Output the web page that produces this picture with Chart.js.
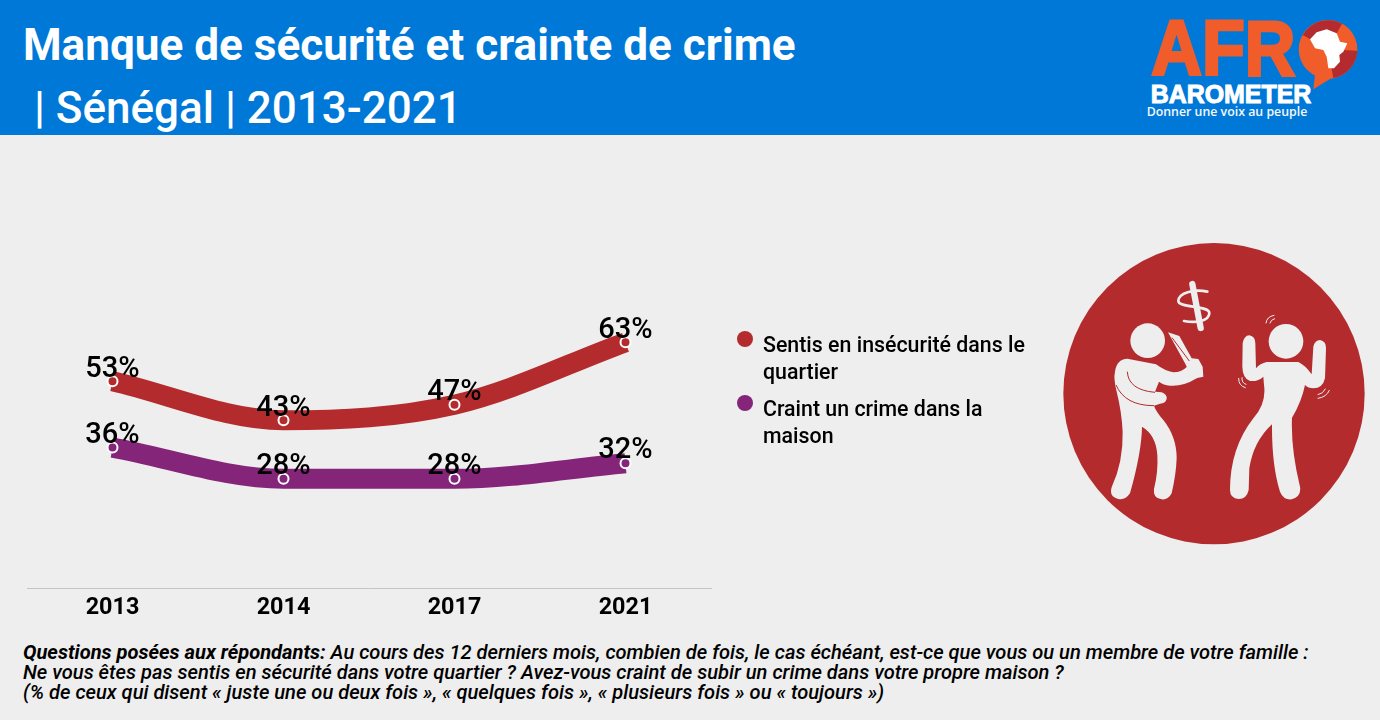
<!DOCTYPE html>
<html lang="fr">
<head>
<meta charset="utf-8">
<title>Manque de sécurité et crainte de crime | Sénégal | 2013-2021</title>
<script src="https://cdn.jsdelivr.net/npm/chart.js@4"></script>
<style>
  html, body { margin: 0; padding: 0; }
  body { width: 1380px; height: 720px; background: #eeeeee; position: relative; overflow: hidden; font-family: Roboto, sans-serif; color: #000; }
  #header { position: absolute; left: 0; top: 0; width: 1380px; height: 135px; background: #0078d7; color: #fff; }
  #header div { position: absolute; white-space: pre; line-height: 60px; }
  #title1 { left: 23px; top: 15px; font-size: 44.1px; font-weight: 700; }
  #title2 { left: 23px; top: 78px; font-size: 44px; font-weight: 500; }
  #logo { position: absolute; left: 1130px; top: 0; }
  #chartBox { position: absolute; left: 0; top: 135px; width: 740px; height: 493px; }
  #legend { position: absolute; left: 737px; top: 331px; width: 300px; }
  .legend-item { position: relative; padding-left: 26px; font-size: 21.35px; font-weight: 500; line-height: 27px; margin-bottom: 10px; }
  .legend-item i { position: absolute; left: 0; top: 0; width: 16px; height: 16px; border-radius: 50%; }
  #icon { position: absolute; left: 1050px; top: 235px; }
  #note { position: absolute; left: 23px; top: 642px; font-size: 20.1px; line-height: 20px; font-style: italic; font-weight: 500; white-space: pre; }
  #note b { font-weight: 700; }
</style>
</head>
<body>
<div id="header">
  <div id="title1">Manque de sécurité et crainte de crime</div>
  <div id="title2"> | Sénégal | 2013-2021</div>
  <svg id="logo" width="250" height="135" viewBox="0 0 750 405">
    <text x="64" y="226" font-family="Liberation Sans" font-weight="700" font-size="232" fill="#f15d2a" stroke="#f15d2a" stroke-width="9" textLength="432" lengthAdjust="spacingAndGlyphs">AFR</text>
    <path d="M555,225 L550,268 L618,226 Z" fill="#f15d2a"/>
    <circle cx="594" cy="148" r="88" fill="#f15d2a"/>
    <path d="M594,148 L518,105 A88,88 0 0 1 636,71 Z" fill="#b32b2e"/>
    <path d="M594,148 L682,152 A88,88 0 0 1 610,234 Z" fill="#b32b2e"/>
    <path d="M540,118 L560,97 L590,88 L620,100 L630,125 L652,130 L640,155 L628,165 L630,185 L612,205 L595,205 L590,170 L580,150 L555,145 Z" fill="#fff"/>
    <text x="62" y="309" font-family="Liberation Sans" font-weight="700" font-size="78" fill="#fff" stroke="#fff" stroke-width="3" textLength="482" lengthAdjust="spacingAndGlyphs">BAROMETER</text>
    <text x="50" y="348" font-family="Open Sans" font-weight="600" font-size="35" fill="#f4f8fd" textLength="482" lengthAdjust="spacingAndGlyphs">Donner une voix au peuple</text>
  </svg>
</div>

<div id="chartBox"><canvas id="myChart"></canvas></div>
<div id="legend"></div>

<svg id="icon" width="330" height="320" viewBox="0 0 990 960">
  <circle cx="492" cy="476" r="452" fill="#b42b2e"/>
  <g fill="#eeeeee">
    <!-- attacker -->
    <circle cx="293" cy="317" r="52"/>
    <path d="M232,371 L318,388 Q345,408 370,412 Q395,412 410,396 L445,385 L458,415 L440,430 Q400,455 360,452 Q340,450 327,440 L315,470 L335,472 Q352,478 350,492 Q346,506 330,506 L312,512 Q318,530 340,555 Q380,605 380,670 Q378,720 365,775 Q355,795 335,793 Q308,790 312,762 Q325,710 322,660 Q318,600 276,575 Q275,650 240,775 Q225,797 205,792 Q176,785 185,757 Q220,680 218,590 Q215,530 200,470 Q190,430 195,410 Q200,372 232,371 Z"/>
    <!-- knife -->
    <path d="M354,292 L388,303 L425,370 L445,372 L458,395 L460,425 L438,430 L430,405 L410,395 L405,385 Z"/>
    <!-- victim -->
    <circle cx="708" cy="319" r="52"/>
    <path d="M650,381 L745,381 Q765,390 785,418 L790,335 Q795,315 810,315 Q828,318 828,340 L825,430 Q818,460 790,460 Q775,460 765,450 Q755,500 726,548 Q722,640 750,755 Q755,785 725,793 Q700,795 690,770 Q665,690 666,568 Q610,620 598,700 L596,765 Q590,792 566,792 Q540,790 540,765 Q540,640 610,550 Q650,505 642,450 L640,425 Q625,440 600,438 Q578,430 577,395 L578,325 Q582,302 598,301 Q616,304 616,325 L618,400 Q630,385 650,381 Z"/>
  </g>
  <g fill="none" stroke="#b42b2e" stroke-width="3">
    <path d="M232,410 Q235,465 315,472"/>
    <path d="M198,450 Q225,512 312,512"/>
    <path d="M366,308 L418,378"/>
  </g>
  <g fill="none" stroke="#eeeeee" stroke-linecap="round">
    <path d="M427,147 L452,279" stroke-width="19"/>
    <path d="M472,170 C430,160 385,175 385,198 C385,220 480,210 478,235 C476,258 440,265 402,258" stroke-width="8"/>
    <!-- shake marks -->
    <g stroke-width="3">
      <path d="M648,264 Q650,245 672,241"/>
      <path d="M660,264 Q662,254 674,251"/>
      <path d="M566,430 Q565,452 586,458"/>
      <path d="M576,428 Q574,444 588,448"/>
      <path d="M838,466 Q830,486 804,490"/>
      <path d="M826,462 Q820,476 804,479"/>
    </g>
  </g>
</svg>

<div id="note"><b>Questions posées aux répondants:</b> Au cours des 12 derniers mois, combien de fois, le cas échéant, est-ce que vous ou un membre de votre famille :
Ne vous êtes pas sentis en sécurité dans votre quartier ? Avez-vous craint de subir un crime dans votre propre maison ?
(% de ceux qui disent « juste une ou deux fois », « quelques fois », « plusieurs fois » ou « toujours »)</div>

<script>
const years = ['2013', '2014', '2017', '2021'];
const insecurite = [53, 43, 47, 63];
const crainte = [36, 28, 28, 32];
const seriesNames = ['Sentis en insécurité dans le quartier', 'Craint un crime dans la maison'];
const seriesColors = ['#b42b2e', '#84257a'];

// value labels above each point, there is no datalabels plugin here
const pointLabels = {
    id: 'pointLabels',
    afterDatasetsDraw(chart) {
        const ctx = chart.ctx;
        ctx.save();
        ctx.font = '500 29px Roboto';
        ctx.fillStyle = '#000';
        ctx.textAlign = 'center';
        ctx.textBaseline = 'middle';
        chart.data.datasets.forEach((ds, i) => {
            chart.getDatasetMeta(i).data.forEach((pt, j) => {
                ctx.fillText(ds.data[j] + '%', pt.x, pt.y - 12);
            });
        });
        ctx.restore();
    }
};

function makeDataset(label, values, color) {
    return {
        label: label,
        data: values,
        borderColor: color,
        borderWidth: 20,
        borderCapStyle: 'butt',
        cubicInterpolationMode: 'monotone',
        fill: false,
        pointRadius: 5,
        pointBorderWidth: 2,
        pointBackgroundColor: color,
        pointBorderColor: '#fff'
    };
}

const legendBox = document.getElementById('legend');
seriesNames.forEach((name, i) => {
    const item = document.createElement('div');
    item.className = 'legend-item';
    item.innerHTML = '<i style="background:' + seriesColors[i] + '"></i>' + name;
    legendBox.appendChild(item);
});

document.fonts.load('500 29px Roboto').then(() => {
    new Chart(document.getElementById('myChart'), {
        type: 'line',
        data: {
            labels: years,
            datasets: [
                makeDataset(seriesNames[0], insecurite, seriesColors[0]),
                makeDataset(seriesNames[1], crainte, seriesColors[1])
            ]
        },
        plugins: [pointLabels],
        options: {
            responsive: true,
            maintainAspectRatio: false,
            animation: false,
            layout: { padding: { left: 27, right: 29, top: 63, bottom: 0 } },
            plugins: { legend: { display: false }, tooltip: { enabled: false } },
            scales: {
                y: { display: false, min: 0, max: 100 },
                x: {
                    offset: true,
                    afterFit: (scale) => { scale.height = 40; },
                    grid: { display: false, drawTicks: false },
                    border: { color: '#c4c4c4', width: 1 },
                    ticks: { color: '#000', font: { family: 'Roboto', size: 23.4, weight: '700' }, padding: 6 }
                }
            }
        }
    });
});
</script>
</body>
</html>
